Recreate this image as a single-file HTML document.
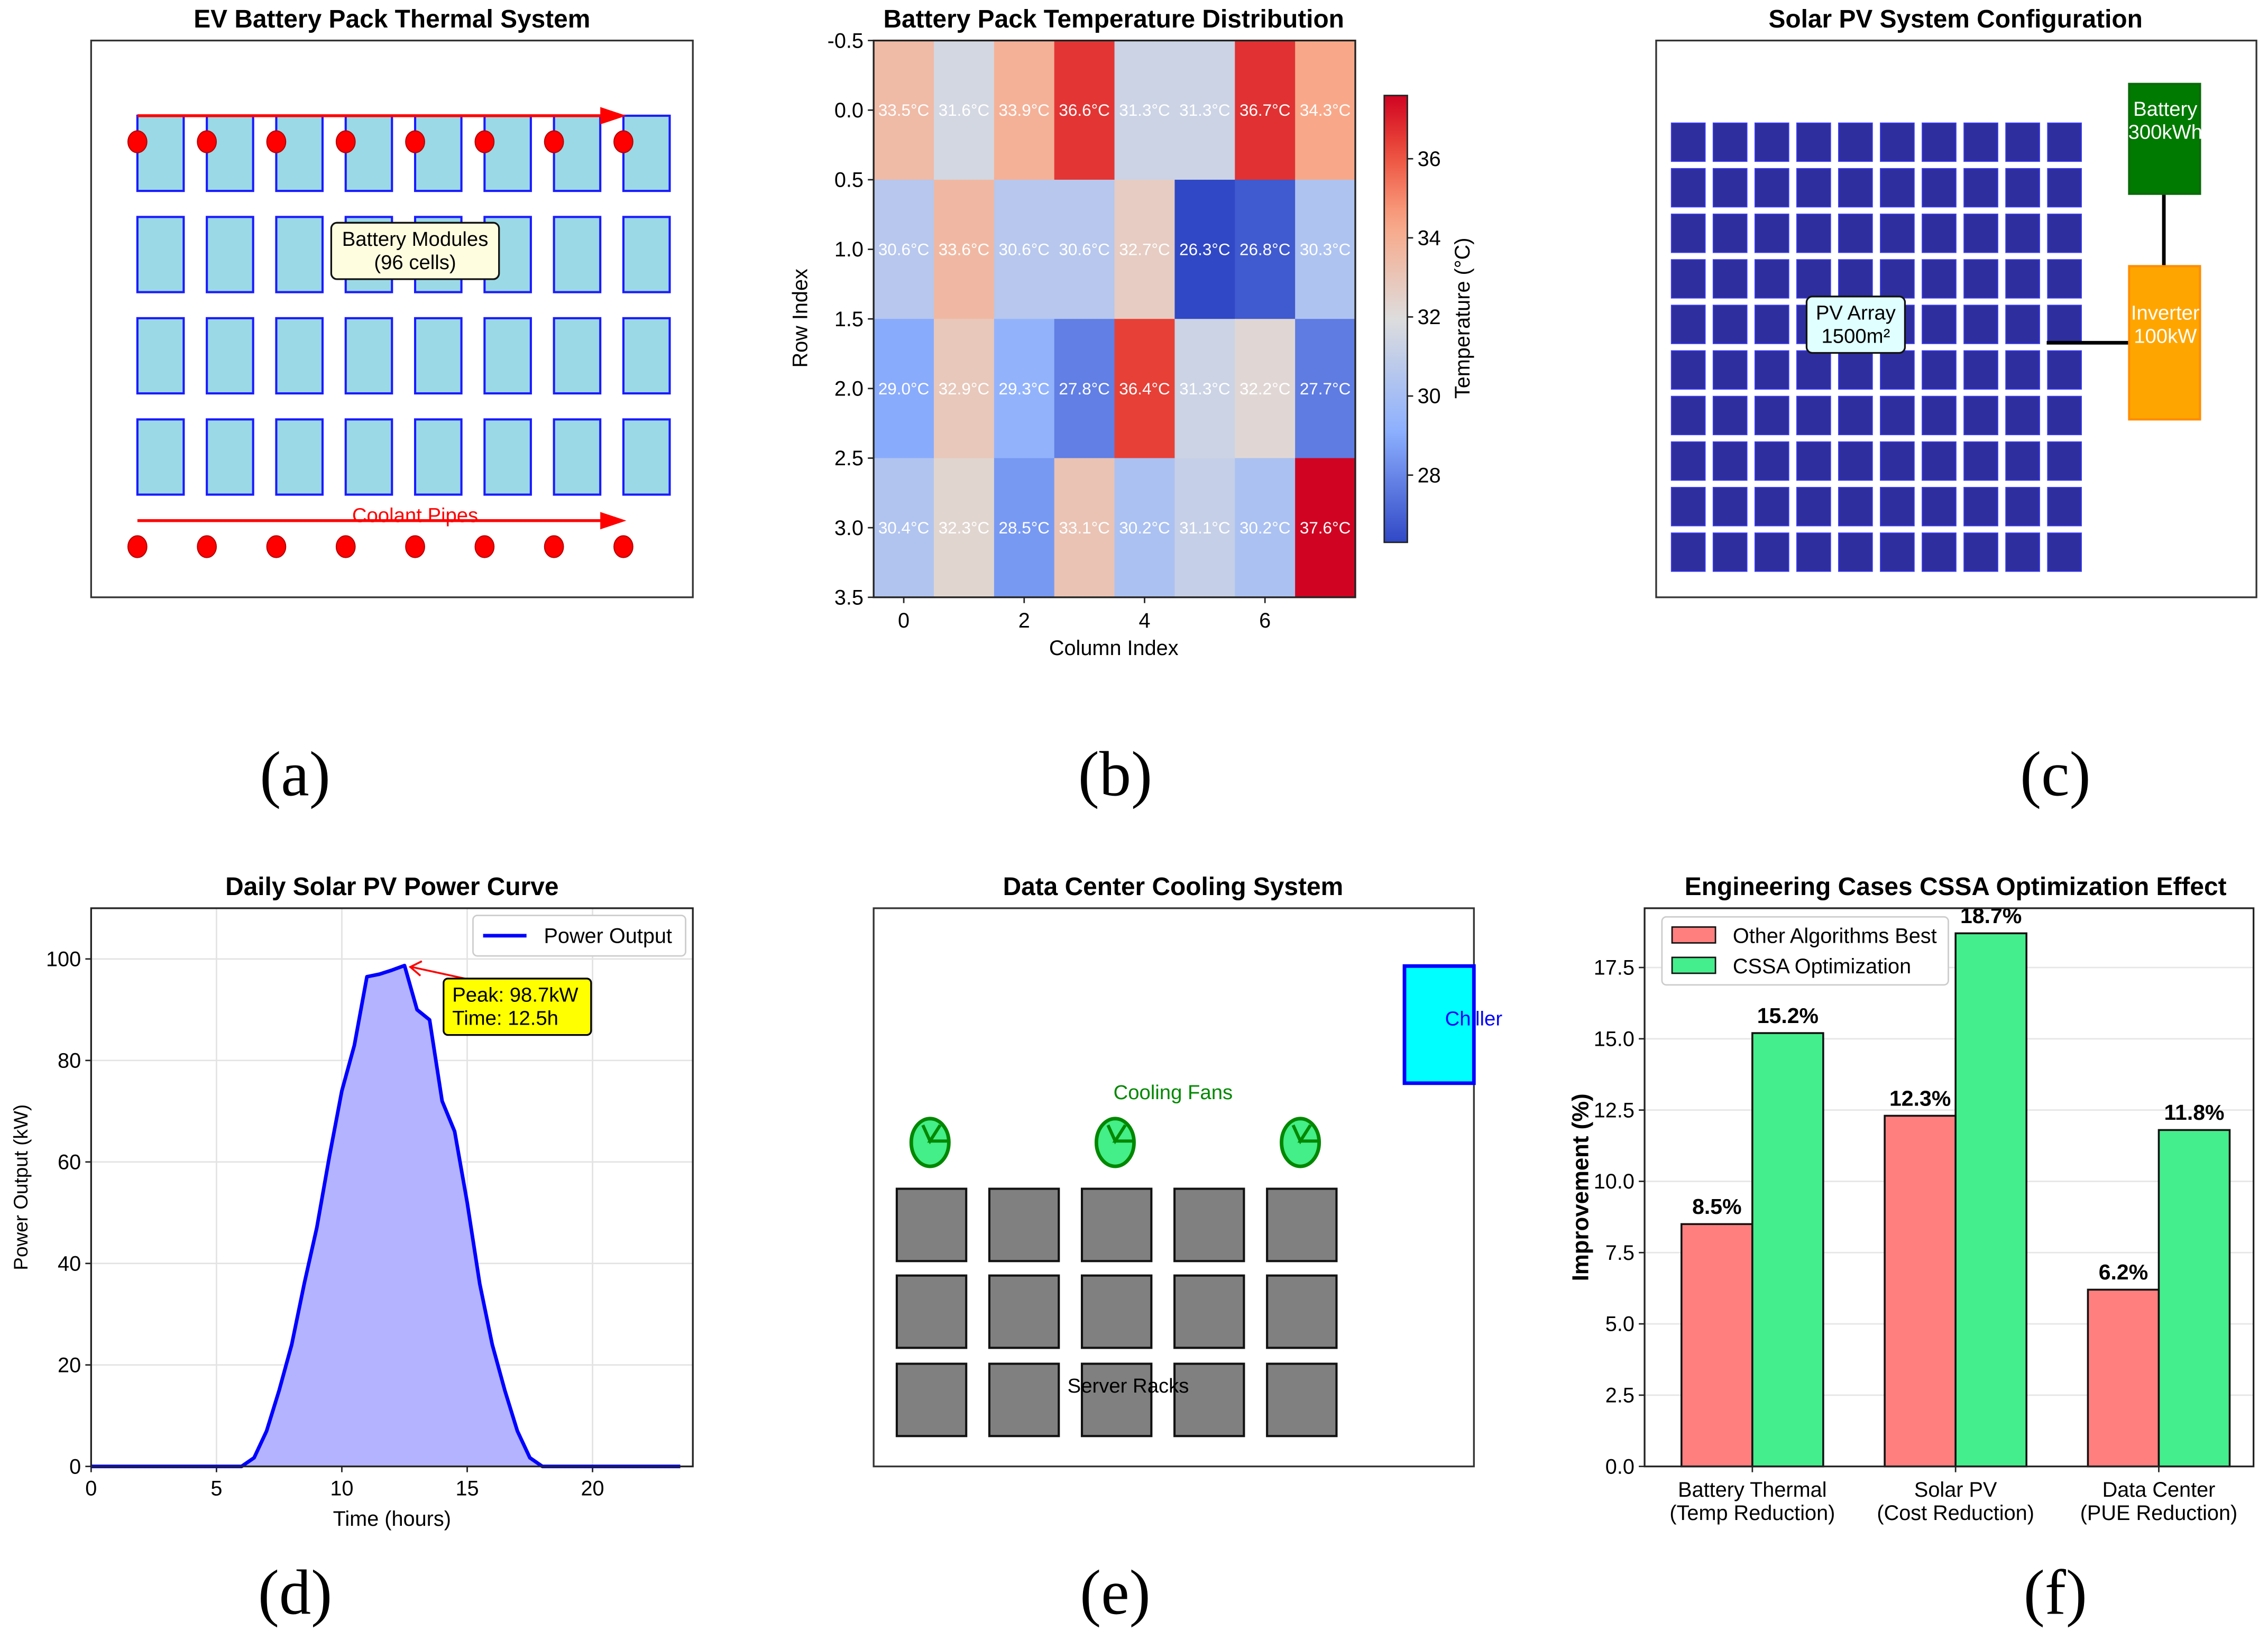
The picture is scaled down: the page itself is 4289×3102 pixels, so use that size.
<!DOCTYPE html>
<html><head><meta charset="utf-8"><style>
html,body{margin:0;padding:0;background:#fff;}
svg{display:block;font-family:"Liberation Sans",Arial,sans-serif;}
.t{font-weight:bold;font-size:17.5px;text-anchor:middle;}
.tk{font-size:14.5px;}
.lbl{font-family:"Liberation Serif",serif;font-size:44px;text-anchor:middle;}
</style></head><body>
<svg id="fig" width="4289" height="3102" viewBox="0 0 1568 1134" xmlns="http://www.w3.org/2000/svg">
<rect x="0" y="0" width="1568" height="1134" fill="#fff"/>
<text class="t" x="271" y="19">EV Battery Pack Thermal System</text>
<text class="t" x="770" y="19">Battery Pack Temperature Distribution</text>
<text class="t" x="1352" y="19">Solar PV System Configuration</text>
<text class="t" x="271" y="619">Daily Solar PV Power Curve</text>
<text class="t" x="811" y="619">Data Center Cooling System</text>
<text class="t" x="1352" y="619">Engineering Cases CSSA Optimization Effect</text>
<text class="lbl" x="204" y="550">(a)</text>
<text class="lbl" x="771" y="550">(b)</text>
<text class="lbl" x="1421" y="550">(c)</text>
<text class="lbl" x="204" y="1116">(d)</text>
<text class="lbl" x="771" y="1116">(e)</text>
<text class="lbl" x="1421" y="1116">(f)</text>
<g id="pa"></g>
<g id="pb"></g>
<g id="pc"></g>
<g id="pd"></g>
<g id="pe"></g>
<g id="pf"></g>
</svg>
<script>
// ---- data ----
const heatRows = [
 [33.5,31.6,33.9,36.6,31.3,31.3,36.7,34.3],
 [30.6,33.6,30.6,30.6,32.7,26.3,26.8,30.3],
 [29.0,32.9,29.3,27.8,36.4,31.3,32.2,27.7],
 [30.4,32.3,28.5,33.1,30.2,31.1,30.2,37.6]];
const heatMin = 26.3, heatMax = 37.6;
const heatYTicks = ["-0.5","0.0","0.5","1.0","1.5","2.0","2.5","3.0","3.5"];
const heatXTicks = [0,2,4,6];
const cbarTicks = [28,30,32,34,36];
const solarHours = [0,0.5,1,1.5,2,2.5,3,3.5,4,4.5,5,5.5,6,6.5,7,7.5,8,8.5,9,9.5,10,10.5,11,11.5,12,12.5,13,13.5,14,14.5,15,15.5,16,16.5,17,17.5,18,18.5,19,19.5,20,20.5,21,21.5,22,22.5,23,23.5];
const solarPower = [0,0,0,0,0,0,0,0,0,0,0,0,0,1.7,7,15,24,36,47,61,74,83,96.5,97,97.8,98.7,90,88,72,66,52,36,24,15,7,1.7,0,0,0,0,0,0,0,0,0,0,0,0];
const solarXTicks = [0,5,10,15,20];
const solarYTicks = [0,20,40,60,80,100];
const barCats = [["Battery Thermal","(Temp Reduction)"],["Solar PV","(Cost Reduction)"],["Data Center","(PUE Reduction)"]];
const otherBest = [8.5,12.3,6.2];
const cssaVals = [15.2,18.7,11.8];
const barYTicks = [0,2.5,5,7.5,10,12.5,15,17.5];

const NS="http://www.w3.org/2000/svg";
function mk(parent,tag,attrs,txt){const e=document.createElementNS(NS,tag);for(const k in attrs)e.setAttribute(k,attrs[k]);if(txt!==undefined)e.textContent=txt;parent.appendChild(e);return e;}

// ---- panel a ----
(function(){
 const g=document.getElementById('pa');
 let e=mk(g,'rect',{x:63,y:28,width:416,height:385,fill:'#fff',stroke:'#333','stroke-width':1.2});
 
 
 const rowsY=[80,150,220,290];
 for(let r=0;r<4;r++)for(let c=0;c<8;c++){
  e=mk(g,'rect',{x:95+48*c,y:rowsY[r],width:32,height:52,fill:'#9bd9e6',stroke:'#1a1aff','stroke-width':1.5});
  
  
 }
 [[80],[360]].forEach(([y])=>{
  e=mk(g,'line',{x1:95,y1:y,x2:418,y2:y,stroke:'#f00','stroke-width':2});
  
  
  e=mk(g,'polygon',{points:`415,${y-6} 433,${y} 415,${y+6}`,fill:'#f00'});
  
  
 });
 [98,378].forEach(y=>{for(let i=0;i<8;i++){
  e=mk(g,'ellipse',{cx:95+48*i,cy:y,rx:6.5,ry:7.5,fill:'#f00',stroke:'#b00','stroke-width':0.8});
  
  
 }});
 e=mk(g,'rect',{x:229,y:154,width:116,height:39,rx:4,fill:'#fffde0',stroke:'#111','stroke-width':1.2});
 
 
 e=mk(g,'text',{x:287,y:170,'text-anchor':'middle','font-size':14},'Battery Modules');
 
 
 e=mk(g,'text',{x:287,y:186,'text-anchor':'middle','font-size':14},'(96 cells)');
 
 
 e=mk(g,'text',{x:287,y:361,'text-anchor':'middle','font-size':14,fill:'#f00'},'Coolant Pipes');
 
 
})();

// ---- panel b ----
function coolwarm(t){
 const s=[[0,[48,72,198]],[0.25,[141,176,254]],[0.5,[221,221,221]],[0.72,[250,165,132]],[0.87,[236,78,60]],[1,[208,4,34]]];
 t=Math.max(0,Math.min(1,t));
 for(let i=0;i<s.length-1;i++){const [a,ca]=s[i],[b,cb]=s[i+1];if(t<=b){const f=(t-a)/(b-a);return 'rgb('+ca.map((v,k)=>Math.round(v+(cb[k]-v)*f)).join(',')+')';}}
}
(function(){
 const g=document.getElementById('pb');
 const X0=604,X1=937,Y0=28,Y1=413;
 const cw=(X1-X0)/8,ch=(Y1-Y0)/4;
 const xs=c=>X0+(c+0.5)*cw, ys=v=>Y0+(v+0.5)*ch;
 let e;
 heatRows.forEach((row,r)=>row.forEach((v,c)=>{
  e=mk(g,'rect',{x:xs(c)-cw/2,y:ys(r)-ch/2,width:cw+0.5,height:ch+0.5,fill:coolwarm((v-heatMin)/(heatMax-heatMin))});
  
  
  e=mk(g,'text',{x:xs(c),y:ys(r)+4,'text-anchor':'middle','font-size':11.5,fill:'#fff'},v.toFixed(1)+'°C');
  
  
 }));
 e=mk(g,'rect',{x:X0,y:Y0,width:X1-X0,height:Y1-Y0,fill:'none',stroke:'#222','stroke-width':1.2});
 
 
 heatYTicks.forEach(t=>{const y=ys(parseFloat(t));
  e=mk(g,'line',{x1:X0-4,y1:y,x2:X0,y2:y,stroke:'#222'});
  
  
  e=mk(g,'text',{x:X0-7,y:y+5,'text-anchor':'end','class':'tk'},t);
  
  
 });
 heatXTicks.forEach(t=>{const x=xs(t);
  e=mk(g,'line',{x1:x,y1:Y1,x2:x,y2:Y1+4,stroke:'#222'});
  
  
  e=mk(g,'text',{x:x,y:Y1+21,'text-anchor':'middle','class':'tk'},t);
  
  
 });
 e=mk(g,'text',{x:770,y:453,'text-anchor':'middle','class':'tk'},'Column Index');
 
 
 e=mk(g,'text',{x:558,y:220,'text-anchor':'middle','class':'tk',transform:'rotate(-90 558 220)'},'Row Index');
 
 
 const CX=957,CW=16,CT=66,CB=375;
 const cy=v=>CB-(v-heatMin)/(heatMax-heatMin)*(CB-CT);
 const defs=mk(g,'defs',{});
 const lg=mk(defs,'linearGradient',{id:'cwg',x1:0,y1:1,x2:0,y2:0});
 for(let i=0;i<=20;i++)mk(lg,'stop',{offset:i/20,'stop-color':coolwarm(i/20)});
 e=mk(g,'rect',{x:CX,y:CT,width:CW,height:CB-CT,fill:'url(#cwg)',stroke:'#222','stroke-width':1});
 
 
 cbarTicks.forEach(t=>{const y=cy(t);
  e=mk(g,'line',{x1:CX+CW,y1:y,x2:CX+CW+4,y2:y,stroke:'#222'});
  
  
  e=mk(g,'text',{x:CX+CW+7,y:y+5,'class':'tk'},t);
  
  
 });
 e=mk(g,'text',{x:1016,y:220,'text-anchor':'middle','class':'tk',transform:'rotate(-90 1016 220)'},'Temperature (°C)');
 
 
})();

// ---- panel c ----
(function(){
 const g=document.getElementById('pc');
 let e=mk(g,'rect',{x:1145,y:28,width:415,height:385,fill:'#fff',stroke:'#333','stroke-width':1.2});
 
 
 for(let r=0;r<10;r++)for(let c=0;c<10;c++){
  e=mk(g,'rect',{x:1155.5+28.9*c,y:85+31.5*r,width:23.4,height:26.6,fill:'#2e2e9e',stroke:'#3a3aff','stroke-width':0.6});
  
  
 }
 e=mk(g,'line',{x1:1496,y1:134,x2:1496,y2:184,stroke:'#000','stroke-width':2.5});
 
 
 e=mk(g,'line',{x1:1415,y1:237,x2:1473,y2:237,stroke:'#000','stroke-width':2.5});
 
 
 e=mk(g,'rect',{x:1472,y:58,width:49,height:76,fill:'#007a00',stroke:'#0a6a0a','stroke-width':1.5});
 
 
 e=mk(g,'text',{x:1497,y:80,'text-anchor':'middle','font-size':14,fill:'#fff'},'Battery');
 
 
 e=mk(g,'text',{x:1497,y:96,'text-anchor':'middle','font-size':14,fill:'#fff'},'300kWh');
 
 
 e=mk(g,'rect',{x:1472,y:184,width:49,height:106,fill:'#ffa500',stroke:'#ff8c00','stroke-width':1.5});
 
 
 e=mk(g,'text',{x:1497,y:221,'text-anchor':'middle','font-size':14,fill:'#fff'},'Inverter');
 
 
 e=mk(g,'text',{x:1497,y:237,'text-anchor':'middle','font-size':14,fill:'#fff'},'100kW');
 
 
 e=mk(g,'rect',{x:1249,y:205,width:68,height:39,rx:4,fill:'#e0ffff',stroke:'#111','stroke-width':1.2});
 
 
 e=mk(g,'text',{x:1283,y:221,'text-anchor':'middle','font-size':14},'PV Array');
 
 
 e=mk(g,'text',{x:1283,y:237,'text-anchor':'middle','font-size':14},'1500m²');
 
 
})();

// ---- panel d ----
(function(){
 const g=document.getElementById('pd');
 const X0=63,X1=479,Y0=628,Y1=1014;
 const xs=h=>X0+h/24*(X1-X0), ys=v=>Y1-v/110*(Y1-Y0);
 let e=mk(g,'rect',{x:X0,y:Y0,width:X1-X0,height:Y1-Y0,fill:'#fff'});
 
 
 solarXTicks.forEach(t=>{
  e=mk(g,'line',{x1:xs(t),y1:Y0,x2:xs(t),y2:Y1,stroke:'#e3e3e3','stroke-width':1});
  
  
  e=mk(g,'text',{x:xs(t),y:Y1+20,'text-anchor':'middle','class':'tk'},t);
  
  
  e=mk(g,'line',{x1:xs(t),y1:Y1,x2:xs(t),y2:Y1+4,stroke:'#222'});
  
  
 });
 solarYTicks.forEach(t=>{
  e=mk(g,'line',{x1:X0,y1:ys(t),x2:X1,y2:ys(t),stroke:'#e3e3e3','stroke-width':1});
  
  
  e=mk(g,'text',{x:X0-7,y:ys(t)+5,'text-anchor':'end','class':'tk'},t);
  
  
  e=mk(g,'line',{x1:X0-4,y1:ys(t),x2:X0,y2:ys(t),stroke:'#222'});
  
  
 });
 const pts=solarHours.map((h,i)=>xs(h).toFixed(2)+','+ys(solarPower[i]).toFixed(2));
 e=mk(g,'polygon',{points:xs(solarHours[0])+','+ys(0)+' '+pts.join(' ')+' '+xs(solarHours[solarHours.length-1])+','+ys(0),fill:'#b3b3ff',stroke:'none'});
 
 
 e=mk(g,'polyline',{points:pts.join(' '),fill:'none',stroke:'#0000ff','stroke-width':2.5,'stroke-linejoin':'round'});
 
 
 e=mk(g,'rect',{x:X0,y:Y0,width:X1-X0,height:Y1-Y0,fill:'none',stroke:'#222','stroke-width':1.2});
 
 
 let pi=0;solarPower.forEach((v,i)=>{if(v>solarPower[pi])pi=i;});
 const px=xs(solarHours[pi]),py=ys(solarPower[pi]);
 e=mk(g,'line',{x1:px+60,y1:py+13,x2:px+5,y2:py+1,stroke:'#f00','stroke-width':1.3});
 
 
 e=mk(g,'polyline',{points:`${px+12},${py-3} ${px+4},${py+1} ${px+11},${py+7}`,fill:'none',stroke:'#f00','stroke-width':1.3});
 
 
 e=mk(g,'rect',{x:px+27,y:py+9,width:102,height:39,rx:3,fill:'#ffff00',stroke:'#000','stroke-width':1.2});
 
 
 e=mk(g,'text',{x:px+33,y:py+25,'font-size':14},'Peak: '+solarPower[pi].toFixed(1)+'kW');
 
 
 e=mk(g,'text',{x:px+33,y:py+41,'font-size':14},'Time: '+solarHours[pi].toFixed(1)+'h');
 
 
 e=mk(g,'rect',{x:327,y:633,width:147,height:28,rx:3,fill:'#fff',stroke:'#ccc'});
 
 
 e=mk(g,'line',{x1:334,y1:647,x2:364,y2:647,stroke:'#00f','stroke-width':2.5});
 
 
 e=mk(g,'text',{x:376,y:652,'class':'tk'},'Power Output');
 
 
 e=mk(g,'text',{x:271,y:1055,'text-anchor':'middle','class':'tk'},'Time (hours)');
 
 
 e=mk(g,'text',{x:19,y:821,'text-anchor':'middle','font-size':13.5,transform:'rotate(-90 19 821)'},'Power Output (kW)');
 
 
})();

// ---- panel e ----
(function(){
 const g=document.getElementById('pe');
 let e=mk(g,'rect',{x:604,y:628,width:415,height:386,fill:'#fff',stroke:'#333','stroke-width':1.2});
 
 
 e=mk(g,'rect',{x:971,y:668,width:48,height:81,fill:'#00ffff',stroke:'#0000ff','stroke-width':2.5});
 
 
 e=mk(g,'text',{x:999,y:709,'font-size':14,fill:'#0000ff'},'Chiller');
 
 
 const ry=[822,882,943];
 for(let r=0;r<3;r++)for(let c=0;c<5;c++){
  e=mk(g,'rect',{x:620+64*c,y:ry[r],width:48,height:50,fill:'#808080',stroke:'#111','stroke-width':1.5});
  
  
 }
 [643,771,899].forEach(x=>{
  e=mk(g,'ellipse',{cx:x,cy:790,rx:13,ry:16.5,fill:'#44ee88',stroke:'#008800','stroke-width':2.5});
  
  
  e=mk(g,'polyline',{points:`${x-5},${778} ${x},${789} ${x+7},${778} ${x},${789} ${x+13},${789}`,fill:'none',stroke:'#008800','stroke-width':2.2});
  
  
 });
 e=mk(g,'text',{x:811,y:760,'text-anchor':'middle','font-size':14,fill:'#008800'},'Cooling Fans');
 
 
 e=mk(g,'text',{x:780,y:963,'text-anchor':'middle','font-size':14},'Server Racks');
 
 
})();

// ---- panel f ----
(function(){
 const g=document.getElementById('pf');
 const X0=1137,X1=1558,Y0=628,Y1=1014,YMAX=19.58;
 const ys=v=>Y1-v/YMAX*(Y1-Y0);
 const centers=[1211.5,1352,1492.5],bw=49;
 let e=mk(g,'rect',{x:X0,y:Y0,width:X1-X0,height:Y1-Y0,fill:'#fff'});
 
 
 barYTicks.forEach(t=>{
  e=mk(g,'line',{x1:X0,y1:ys(t),x2:X1,y2:ys(t),stroke:'#e6e6e6'});
  
  
  e=mk(g,'line',{x1:X0-4,y1:ys(t),x2:X0,y2:ys(t),stroke:'#222'});
  
  
  e=mk(g,'text',{x:X0-7,y:ys(t)+5,'text-anchor':'end','class':'tk'},t.toFixed(1));
  
  
 });
 barCats.forEach((cat,i)=>{
  const cx=centers[i];
  e=mk(g,'rect',{x:cx-bw,y:ys(otherBest[i]),width:bw,height:Y1-ys(otherBest[i]),fill:'#ff7f7f',stroke:'#111','stroke-width':1.3});
  
  
  e=mk(g,'rect',{x:cx,y:ys(cssaVals[i]),width:bw,height:Y1-ys(cssaVals[i]),fill:'#45ee8c',stroke:'#111','stroke-width':1.3});
  
  
  e=mk(g,'text',{x:cx-bw/2,y:ys(otherBest[i])-7,'text-anchor':'middle','font-size':15,'font-weight':'bold'},otherBest[i].toFixed(1)+'%');
  
  
  e=mk(g,'text',{x:cx+bw/2,y:ys(cssaVals[i])-7,'text-anchor':'middle','font-size':15,'font-weight':'bold'},cssaVals[i].toFixed(1)+'%');
  
  
  e=mk(g,'line',{x1:cx,y1:Y1,x2:cx,y2:Y1+4,stroke:'#222'});
  
  
  e=mk(g,'text',{x:cx,y:Y1+21,'text-anchor':'middle','class':'tk'},cat[0]);
  
  
  e=mk(g,'text',{x:cx,y:Y1+37,'text-anchor':'middle','class':'tk'},cat[1]);
  
  
 });
 e=mk(g,'rect',{x:X0,y:Y0,width:X1-X0,height:Y1-Y0,fill:'none',stroke:'#222','stroke-width':1.2});
 
 
 e=mk(g,'rect',{x:1149,y:634,width:198,height:47,rx:3,fill:'#fff',stroke:'#ccc'});
 
 
 e=mk(g,'rect',{x:1156,y:641,width:30,height:11,fill:'#ff7f7f',stroke:'#111'});
 
 
 e=mk(g,'text',{x:1198,y:652,'class':'tk'},'Other Algorithms Best');
 
 
 e=mk(g,'rect',{x:1156,y:662,width:30,height:11,fill:'#45ee8c',stroke:'#111'});
 
 
 e=mk(g,'text',{x:1198,y:673,'class':'tk'},'CSSA Optimization');
 
 
 e=mk(g,'text',{x:1098,y:821,'text-anchor':'middle','font-size':16,'font-weight':'bold',transform:'rotate(-90 1098 821)'},'Improvement (%)');
 
 
})();
</script>
</body></html>
